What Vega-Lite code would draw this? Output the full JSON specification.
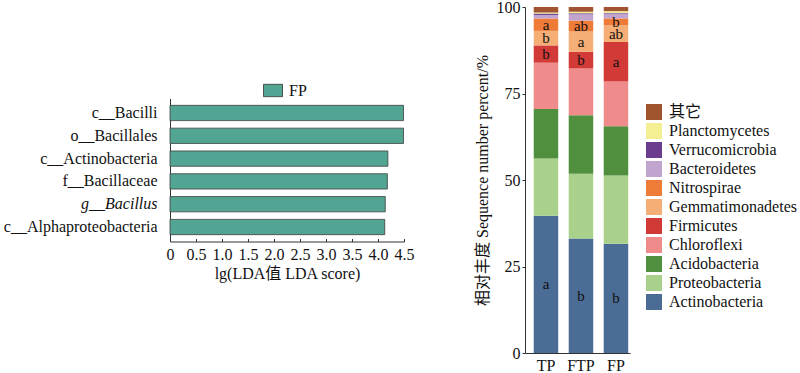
{
  "$schema": "https://vega.github.io/schema/vega-lite/v6.json",
  "padding": {"left": 3, "top": -1, "right": 0, "bottom": 0},
  "spacing": 60,
  "center": true,
  "resolve": {"scale": {"color": "independent"}, "legend": {"color": "independent"}},
  "config": {
    "font": "Liberation Serif, Noto Sans CJK SC",
    "view": {"stroke": null},
    "axis": {
      "labelFont": "Liberation Serif, Noto Sans CJK SC",
      "titleFont": "Liberation Serif, Noto Sans CJK SC",
      "labelFontSize": 16,
      "titleFontSize": 16,
      "titleFontWeight": "normal",
      "labelColor": "#111",
      "titleColor": "#111",
      "domainColor": "#333",
      "tickColor": "#333",
      "grid": false
    },
    "legend": {
      "labelFont": "Liberation Serif, Noto Sans CJK SC",
      "labelFontSize": 16,
      "labelColor": "#111",
      "padding": 0
    }
  },
  "hconcat": [
    {
      "width": 234,
      "height": 143,
      "data": {
        "values": [
          {"feature": "c__Bacilli", "lda": 4.49, "grp": "FP"},
          {"feature": "o__Bacillales", "lda": 4.49, "grp": "FP"},
          {"feature": "c__Actinobacteria", "lda": 4.19, "grp": "FP"},
          {"feature": "f__Bacillaceae", "lda": 4.18, "grp": "FP"},
          {"feature": "g__Bacillus", "lda": 4.14, "grp": "FP"},
          {"feature": "c__Alphaproteobacteria", "lda": 4.13, "grp": "FP"}
        ]
      },
      "mark": {"type": "bar", "stroke": "#3d3d3d", "strokeWidth": 0.8},
      "encoding": {
        "y": {
          "field": "feature",
          "type": "nominal",
          "sort": null,
          "scale": {"paddingInner": 0.33, "paddingOuter": 0.3},
          "axis": {
            "title": null,
            "ticks": false,
            "labelPadding": 13,
            "labelFontStyle": {"condition": {"test": "datum.value == 'g__Bacillus'", "value": "italic"}, "value": "normal"}
          }
        },
        "x": {
          "field": "lda",
          "type": "quantitative",
          "scale": {"domain": [0, 4.5], "nice": false},
          "axis": {
            "title": "lg(LDA值 LDA score)",
            "values": [0, 0.5, 1, 1.5, 2, 2.5, 3, 3.5, 4, 4.5],
            "labelExpr": "datum.value == 0 ? '0' : format(datum.value, '.1f')",
            "tickSize": -3,
            "labelPadding": 8,
            "titlePadding": 3,
            "labelFlush": false
          }
        },
        "color": {
          "field": "grp",
          "type": "nominal",
          "scale": {"domain": ["FP"], "range": ["#53a593"]},
          "legend": {
            "title": null,
            "orient": "none",
            "legendX": 93,
            "legendY": -18,
            "symbolType": "M-1,-0.65L1,-0.65L1,0.65L-1,0.65Z",
            "symbolSize": 361,
            "symbolStrokeColor": "#333",
            "symbolStrokeWidth": 0.8,
            "symbolOpacity": 1,
            "labelOffset": 6
          }
        }
      }
    },
    {
      "width": 105,
      "height": 346,
      "data": {
        "values": [
          {"g": "TP", "taxon": "Actinobacteria", "k": 1, "pct": 39.7, "sig": "a"},
          {"g": "TP", "taxon": "Proteobacteria", "k": 2, "pct": 16.5, "sig": ""},
          {"g": "TP", "taxon": "Acidobacteria", "k": 3, "pct": 14.3, "sig": ""},
          {"g": "TP", "taxon": "Chloroflexi", "k": 4, "pct": 13.4, "sig": ""},
          {"g": "TP", "taxon": "Firmicutes", "k": 5, "pct": 5.0, "sig": "b"},
          {"g": "TP", "taxon": "Gemmatimonadetes", "k": 6, "pct": 4.2, "sig": "b"},
          {"g": "TP", "taxon": "Nitrospirae", "k": 7, "pct": 3.6, "sig": "a"},
          {"g": "TP", "taxon": "Bacteroidetes", "k": 8, "pct": 1.0, "sig": ""},
          {"g": "TP", "taxon": "Verrucomicrobia", "k": 9, "pct": 0.4, "sig": ""},
          {"g": "TP", "taxon": "Planctomycetes", "k": 10, "pct": 0.3, "sig": ""},
          {"g": "TP", "taxon": "其它", "k": 11, "pct": 1.6, "sig": ""},
          {"g": "FTP", "taxon": "Actinobacteria", "k": 1, "pct": 33.1, "sig": "b"},
          {"g": "FTP", "taxon": "Proteobacteria", "k": 2, "pct": 18.7, "sig": ""},
          {"g": "FTP", "taxon": "Acidobacteria", "k": 3, "pct": 16.9, "sig": ""},
          {"g": "FTP", "taxon": "Chloroflexi", "k": 4, "pct": 13.5, "sig": ""},
          {"g": "FTP", "taxon": "Firmicutes", "k": 5, "pct": 4.9, "sig": "b"},
          {"g": "FTP", "taxon": "Gemmatimonadetes", "k": 6, "pct": 5.8, "sig": "a"},
          {"g": "FTP", "taxon": "Nitrospirae", "k": 7, "pct": 3.2, "sig": "ab"},
          {"g": "FTP", "taxon": "Bacteroidetes", "k": 8, "pct": 1.8, "sig": ""},
          {"g": "FTP", "taxon": "Verrucomicrobia", "k": 9, "pct": 0.3, "sig": ""},
          {"g": "FTP", "taxon": "Planctomycetes", "k": 10, "pct": 0.4, "sig": ""},
          {"g": "FTP", "taxon": "其它", "k": 11, "pct": 1.4, "sig": ""},
          {"g": "FP", "taxon": "Actinobacteria", "k": 1, "pct": 31.6, "sig": "b"},
          {"g": "FP", "taxon": "Proteobacteria", "k": 2, "pct": 19.7, "sig": ""},
          {"g": "FP", "taxon": "Acidobacteria", "k": 3, "pct": 14.2, "sig": ""},
          {"g": "FP", "taxon": "Chloroflexi", "k": 4, "pct": 13.0, "sig": ""},
          {"g": "FP", "taxon": "Firmicutes", "k": 5, "pct": 11.4, "sig": "a"},
          {"g": "FP", "taxon": "Gemmatimonadetes", "k": 6, "pct": 4.8, "sig": "ab"},
          {"g": "FP", "taxon": "Nitrospirae", "k": 7, "pct": 2.0, "sig": "b"},
          {"g": "FP", "taxon": "Bacteroidetes", "k": 8, "pct": 1.4, "sig": ""},
          {"g": "FP", "taxon": "Verrucomicrobia", "k": 9, "pct": 0.2, "sig": ""},
          {"g": "FP", "taxon": "Planctomycetes", "k": 10, "pct": 0.5, "sig": ""},
          {"g": "FP", "taxon": "其它", "k": 11, "pct": 1.2, "sig": ""}
        ]
      },
      "encoding": {
        "x": {
          "field": "g",
          "type": "nominal",
          "sort": ["TP", "FTP", "FP"],
          "scale": {"paddingInner": 0.3, "paddingOuter": 0.15, "align": 0.83},
          "axis": {"title": null, "labelAngle": 0, "ticks": false, "labelPadding": 4}
        }
      },
      "layer": [
        {
          "mark": {"type": "bar"},
          "encoding": {
            "y": {
              "field": "pct",
              "type": "quantitative",
              "stack": "zero",
              "scale": {"domain": [0, 100], "nice": false},
              "axis": {
                "title": "相对丰度 Sequence number percent/%",
                "values": [0, 25, 50, 75, 100],
                "tickSize": 3,
                "labelPadding": 2,
                "titlePadding": 6
              }
            },
            "color": {
              "field": "taxon",
              "type": "nominal",
              "scale": {
                "domain": ["其它", "Planctomycetes", "Verrucomicrobia", "Bacteroidetes", "Nitrospirae", "Gemmatimonadetes", "Firmicutes", "Chloroflexi", "Acidobacteria", "Proteobacteria", "Actinobacteria"],
                "range": ["#a0542f", "#f3ef92", "#6a3d8e", "#c2a5cf", "#ef7b39", "#f4ae76", "#d23a37", "#f08b8c", "#4f8f3d", "#a9d18b", "#4b6c95"]
              },
              "legend": {
                "title": null,
                "orient": "none",
                "legendX": 121,
                "legendY": 97,
                "symbolType": "square",
                "symbolSize": 256,
                "symbolStrokeWidth": 0,
                "symbolOpacity": 1,
                "labelOffset": 7,
                "rowPadding": 3
              }
            },
            "order": {"field": "k", "type": "quantitative"}
          }
        },
        {
          "mark": {"type": "text", "fontSize": 15, "color": "#111", "baseline": "middle", "font": "Liberation Serif"},
          "encoding": {
            "y": {"field": "pct", "type": "quantitative", "stack": "zero", "bandPosition": 0.5},
            "detail": {"field": "taxon", "type": "nominal"},
            "order": {"field": "k", "type": "quantitative"},
            "text": {"field": "sig", "type": "nominal"}
          }
        }
      ]
    }
  ]
}
